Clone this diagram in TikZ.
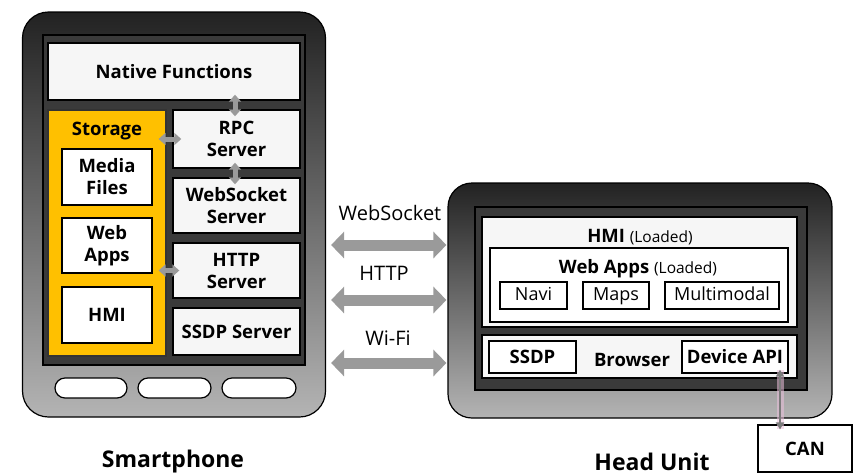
\documentclass[tikz,border=0pt]{standalone}
\usepackage{fontspec}
\setmainfont{Open Sans}
\usetikzlibrary{arrows.meta}

\definecolor{bezelTop}{HTML}{222222}
\definecolor{bezelBot}{HTML}{B4B4B4}
\definecolor{screen}{HTML}{3A3A3A}
\definecolor{panel}{HTML}{F6F6F6}
\definecolor{storage}{HTML}{FFC000}
\definecolor{link}{HTML}{9A9A9A}
\definecolor{halo}{HTML}{EBC0DC}

\tikzset{
  body/.style={draw=black, line width=1.2pt, rounded corners=26pt,
    top color=bezelTop, bottom color=bezelBot, inner sep=0pt},
  screenbox/.style={draw=black, line width=1.2pt, fill=screen, inner sep=0pt},
  panelbox/.style={draw=black, line width=1.4pt, fill=panel, inner sep=0pt,
    align=center, font=\bfseries\fontsize{18.5}{22}\selectfont},
  appbox/.style={draw=black, line width=1.2pt, fill=white, inner sep=0pt,
    text height=13pt, text depth=4pt, font=\fontsize{18}{20}\selectfont},
  storebox/.style={draw=black!80, line width=1.2pt, fill=storage, inner sep=0pt},
  pill/.style={draw=black, line width=1.2pt, fill=white, rounded corners=10pt, inner sep=0pt},
  boldlabel/.style={font=\bfseries\fontsize{18.5}{22}\selectfont},
  title/.style={font=\bfseries\fontsize{23}{26}\selectfont, anchor=base},
  linklabel/.style={font=\fontsize{20}{22}\selectfont},
  bigarrow/.style={draw=link, line width=11pt,
    {Triangle[width=26pt,length=13pt]}-{Triangle[width=26pt,length=13pt]}},
  smallarrow/.style={draw=link, line width=5pt,
    {Triangle[width=12pt,length=7pt]}-{Triangle[width=12pt,length=7pt]}},
  canlink/.style={draw=link!80!black, line width=2.2pt,
    {Triangle[width=8pt,length=7pt]}-{Triangle[width=8pt,length=7pt]}},
}

\begin{document}
\begin{tikzpicture}[x=1pt,y=-1pt]
\useasboundingbox (0,0) rectangle (854,475);
\fill[white] (0,0) rectangle (854,475);

% ---------------- Smartphone ----------------
\node[body, minimum width=303pt, minimum height=405pt] (phone) at (174,214.5) {};
\node[screenbox, minimum width=262pt, minimum height=330pt] (scr) at (174,200) {};

\node[panelbox, minimum width=252pt, minimum height=57pt] (native) at (174,71.5) {Native Functions};

\node[storebox, minimum width=118pt, minimum height=246pt] (store) at (107,233) {};
\node[boldlabel] (storelbl) at (107,131) {Storage};
\node[panelbox, fill=white, minimum width=90pt, minimum height=56pt] (media) at (107,177) {Media\\Files};
\node[panelbox, fill=white, minimum width=90pt, minimum height=55pt] (webapps) at (107,245.5) {Web\\Apps};
\node[panelbox, fill=white, minimum width=90pt, minimum height=56pt] (hmi) at (107,315) {HMI};

\node[panelbox, minimum width=127pt, minimum height=58pt] (rpc) at (236.5,139) {RPC\\Server};
\node[panelbox, minimum width=127pt, minimum height=55pt] (wss) at (236.5,205.5) {WebSocket\\Server};
\node[panelbox, minimum width=127pt, minimum height=55pt] (http) at (236.5,270.5) {HTTP\\Server};
\node[panelbox, minimum width=127pt, minimum height=47pt] (ssdps) at (236.5,331.5) {SSDP Server};

\node[pill, minimum width=72pt, minimum height=20pt] (btnA) at (91,388) {};
\node[pill, minimum width=73pt, minimum height=20pt] (btnB) at (174.5,388) {};
\node[pill, minimum width=74pt, minimum height=20pt] (btnC) at (259,388) {};

\node[title] (phonelbl) at (173,467) {Smartphone};

% internal links
\draw[smallarrow] ([xshift=-1.5pt,yshift=6pt]rpc.north |- native.south) -- ([xshift=-1.5pt,yshift=-7pt]rpc.north);
\draw[smallarrow] ([xshift=-1.5pt,yshift=6pt]rpc.south) -- ([xshift=-1.5pt,yshift=-7pt]wss.north);
\draw[smallarrow] ([xshift=-8pt]store.east |- rpc.west) -- ([xshift=9pt]rpc.west);
\draw[smallarrow] ([xshift=-8pt]store.east |- http.west) -- ([xshift=7pt]http.west);

% ---------------- Head Unit ----------------
\node[body, rounded corners=24pt, minimum width=384pt, minimum height=235pt] (head) at (640,300.5) {};
\node[screenbox, minimum width=332pt, minimum height=183pt] (hscr) at (641,298.5) {};

\node[panelbox, minimum width=315pt, minimum height=110pt] (hmiL) at (639.5,272) {};
\node (hmiLlbl) at (640,237) {\bfseries\fontsize{18.5}{20}\selectfont HMI \mdseries\fontsize{15.5}{17}\selectfont(Loaded)};
\node[appbox, minimum width=298pt, minimum height=74pt] (appsL) at (639,285) {};
\node (appsLlbl) at (638,269) {\bfseries\fontsize{18.5}{20}\selectfont Web Apps \mdseries\fontsize{15.5}{17}\selectfont(Loaded)};
\node[appbox, minimum width=67pt, minimum height=27pt] (navi) at (533.5,295.5) {Navi};
\node[appbox, minimum width=66pt, minimum height=27pt] (maps) at (616,295.5) {Maps};
\node[appbox, minimum width=114pt, minimum height=27pt] (multi) at (722,295.5) {Multimodal};

\node[panelbox, minimum width=315pt, minimum height=43pt] (browser) at (639.5,356.5) {};
\node[boldlabel] (browserlbl) at (632,360) {Browser};
\node[panelbox, fill=white, minimum width=87pt, minimum height=32pt] (ssdp) at (532.5,357) {SSDP};
\node[panelbox, fill=white, minimum width=106pt, minimum height=32pt] (api) at (735,357) {Device API};

\node[panelbox, fill=white, line width=1.2pt, minimum width=94pt, minimum height=47pt] (can) at (805,448.5) {CAN};
\node[title] (headlbl) at (652,470) {Head Unit};

% Device API <-> CAN
\coordinate (apiport) at ([xshift=45pt,yshift=4pt]api.south);
\coordinate (canport) at ([xshift=45pt,yshift=-5pt]api.south |- can.north);
\draw[halo, line width=7pt, opacity=0.55] (apiport) -- (canport);
\draw[canlink] (apiport) -- (canport);

% ---------------- Wireless links ----------------
\node[linklabel] (lws) at (390,213) {WebSocket};
\node[linklabel] (lhttp) at (384,273) {HTTP};
\node[linklabel] (lwifi) at (388,338) {Wi-Fi};
\coordinate (yws) at (0,245);
\coordinate (yhttp) at (0,300);
\coordinate (ywifi) at (0,363);
\draw[bigarrow] ([xshift=5pt]phone.east |- yws) -- ([xshift=-1pt]head.west |- yws);
\draw[bigarrow] ([xshift=5pt]phone.east |- yhttp) -- ([xshift=-1pt]head.west |- yhttp);
\draw[bigarrow] ([xshift=5pt]phone.east |- ywifi) -- ([xshift=-1pt]head.west |- ywifi);
\end{tikzpicture}
\end{document}
